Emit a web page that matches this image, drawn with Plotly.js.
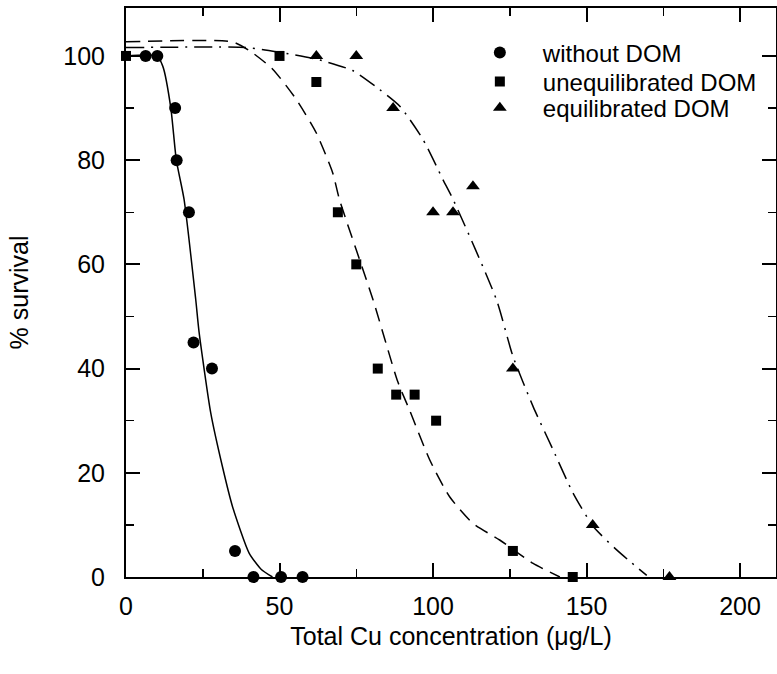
<!DOCTYPE html>
<html>
<head>
<meta charset="utf-8">
<script src="https://cdn.plot.ly/plotly-3.0.1.min.js"></script>
<style>html,body{margin:0;padding:0;background:#fff;}#chart{width:777px;height:674px;}</style>
</head>
<body>
<div id="chart"></div>
<script>
// Measured points
const withoutX = [6.4, 10.2, 16, 16.5, 20.5, 22, 28, 35.5, 41.5, 50.5, 57.5];
const withoutY = [100, 100, 90, 80, 70, 45, 40, 5, 0, 0, 0];

const uneqX = [0, 50, 62, 69, 75, 82, 88, 94, 101, 126, 145.5];
const uneqY = [100, 100, 95, 70, 60, 40, 35, 35, 30, 5, 0];

const eqX = [62, 75, 87, 100, 106.5, 113, 126, 152, 177];
const eqY = [100, 100, 90, 70, 70, 75, 40, 10, 0];

// Fitted curves
const fitWithoutX = [0, 10, 12, 14.6, 16.4, 18.9, 22.7, 23.8, 27.6, 31.4, 34.7, 40.1, 44, 47.7];
const fitWithoutY = [100, 100, 98, 90, 80, 72.5, 53.3, 47, 31.5, 21.2, 13.5, 4.6, 1.5, 0];

const fitUneqX = [0, 34.6, 40, 47.7, 55.4, 61.9, 67.3, 69.5, 80.4, 88.5, 92.3, 98.9, 105.4, 113, 121.7, 132.6, 141.3];
const fitUneqY = [102.7, 102.7, 101.1, 97.5, 91.7, 85.3, 77.6, 72.5, 53.3, 37.5, 32.1, 22.5, 15.4, 10.3, 7.1, 2.6, 0];

const fitEqX = [0, 39, 49.9, 61.9, 73.8, 82.5, 89.1, 96.7, 103.2, 106.5, 120.6, 126, 132.6, 139.1, 145.6, 152.2, 159.8, 169.6];
const fitEqY = [101.6, 101.6, 100.7, 99.4, 97.2, 93.6, 90.4, 84, 76.3, 72.5, 53.3, 42.4, 32.7, 24.4, 16.1, 9.7, 5.2, 0.3];

const seriesNames = ['without DOM', 'unequilibrated DOM', 'equilibrated DOM'];
const xTickVals = [0, 50, 100, 150, 200];
const yTickVals = [0, 20, 40, 60, 80, 100];

const FONT = 'Liberation Sans, Arial, Helvetica, sans-serif';

const traces = [
  {x: fitWithoutX, y: fitWithoutY, mode: 'lines', line: {color: '#000', width: 1.5, shape: 'spline', smoothing: 0.6}, showlegend: false, hoverinfo: 'skip'},
  {x: fitUneqX, y: fitUneqY, mode: 'lines', line: {color: '#000', width: 1.5, dash: '14px,8px', shape: 'spline', smoothing: 0.6}, showlegend: false, hoverinfo: 'skip'},
  {x: fitEqX, y: fitEqY, mode: 'lines', line: {color: '#000', width: 1.5, dash: '18px,7px,2px,7px', shape: 'spline', smoothing: 0.6}, showlegend: false, hoverinfo: 'skip'},
  {x: withoutX, y: withoutY, mode: 'markers', name: seriesNames[0], legend: 'legend', marker: {symbol: 'circle', size: 12, color: '#000'}, cliponaxis: false},
  {x: uneqX, y: uneqY, mode: 'markers', name: seriesNames[1], legend: 'legend2', marker: {symbol: 'square', size: 10, color: '#000'}, cliponaxis: false},
  {x: eqX, y: eqY, mode: 'markers', name: seriesNames[2], legend: 'legend3', marker: {symbol: 'triangle-up', size: 12, color: '#000'}, cliponaxis: false}
];

function legendAt(yPaper) {
  return {x: 0.509, y: yPaper, xanchor: 'left', yanchor: 'middle', bgcolor: 'rgba(0,0,0,0)', borderwidth: 0,
          font: {family: FONT, size: 24, color: '#000'}, itemwidth: 76};
}

const layout = {
  width: 777, height: 674,
  margin: {l: 126, r: 1, t: 8, b: 97},
  paper_bgcolor: '#fff', plot_bgcolor: '#fff',
  font: {family: FONT, size: 25, color: '#000'},
  showlegend: true,
  legend: legendAt(0.921),
  legend2: legendAt(0.870),
  legend3: legendAt(0.824),
  xaxis: {
    range: [0, 211.7], showgrid: false, zeroline: false,
    showline: true, linecolor: '#000', linewidth: 2, mirror: 'allticks',
    ticks: 'inside', ticklen: 14, tickwidth: 2, tickcolor: '#000',
    tickmode: 'array', tickvals: xTickVals, ticktext: xTickVals.map(String),
    tickfont: {family: FONT, size: 25, color: '#000'},
    ticklabelstandoff: 6,
    minor: {dtick: 25, tick0: 0, ticks: 'inside', ticklen: 8, tickwidth: 1.5, tickcolor: '#000', showgrid: false},
    title: {text: 'Total Cu concentration (\u03bcg/L)', font: {family: FONT, size: 25, color: '#000'}, standoff: 8}
  },
  yaxis: {
    range: [0, 109.2], showgrid: false, zeroline: false,
    showline: true, linecolor: '#000', linewidth: 2, mirror: 'allticks',
    ticks: 'inside', ticklen: 14, tickwidth: 2, tickcolor: '#000',
    tickmode: 'array', tickvals: yTickVals, ticktext: yTickVals.map(String),
    tickfont: {family: FONT, size: 25, color: '#000'},
    ticklabelstandoff: 14,
    minor: {dtick: 10, tick0: 0, ticks: 'inside', ticklen: 8, tickwidth: 1.5, tickcolor: '#000', showgrid: false},
    title: {text: '% survival', font: {family: FONT, size: 25, color: '#000'}, standoff: 28}
  }
};

Plotly.newPlot('chart', traces, layout, {displayModeBar: false, staticPlot: true});
</script>
</body>
</html>
